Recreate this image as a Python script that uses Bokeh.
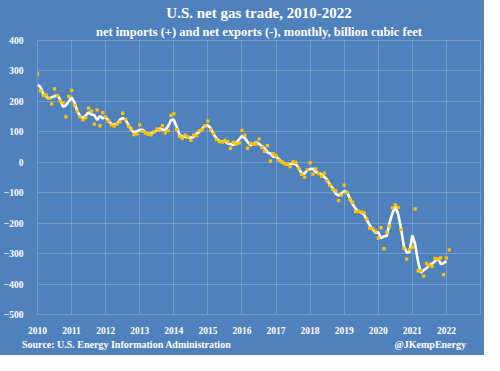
import numpy as np
from bokeh.plotting import figure
from bokeh.models import FixedTicker, Title, Div
from bokeh.layouts import column
from bokeh.embed import file_html
from bokeh.resources import INLINE

# Monthly net imports (+) / net exports (-), billion cubic feet, Jan 2010 - Feb 2022
monthly = [
    290, 235, 219, 221, 210, 192, 241, 219, 202, 196, 149, 216,      # 2010
    236, 187, 168, 149, 139, 146, 178, 168, 125, 172, 120, 163,      # 2011
    149, 135, 123, 119, 126, 133, 161, 141, 119, 110, 91, 93,        # 2012
    123, 102, 97, 92, 90, 101, 109, 105, 120, 97, 104, 154,          # 2013
    160, 107, 85, 79, 89, 83, 72, 89, 88, 104, 108, 119,             # 2014
    135, 108, 94, 75, 68, 66, 72, 68, 46, 66, 60, 64,                # 2015
    105, 89, 46, 62, 59, 60, 76, 48, 36, 55, 4, 28,                  # 2016
    21, 7, 1, -5, -6, -14, 1, 0, -20, -40, -49, -25,                 # 2017
    -2, -39, -22, -37, -46, -36, -61, -75, -89, -94, -126, -108,     # 2018
    -75, -99, -122, -132, -162, -161, -164, -166, -187, -216, -218, -226,  # 2019
    -249, -215, -284, -231, -210, -150, -140, -148, -221, -282, -318, -287,  # 2020
    -279, -153, -357, -357, -374, -332, -339, -342, -316, -318, -314, -369,  # 2021
    -314, -288,                                                      # 2022
]

# Smoothed trend line (white), Jan 2010 - Jan 2022
trend = [
    254, 248, 225, 217, 208, 214, 217, 221, 206, 182, 187, 200,
    213, 197, 168, 152, 145, 154, 164, 157, 155, 139, 152, 144,
    149, 136, 126, 123, 126, 140, 145, 140, 123, 107, 98, 102,
    106, 107, 97, 93, 94, 100, 105, 111, 107, 107, 118, 139,
    140, 117, 90, 84, 84, 81, 81, 83, 94, 100, 110, 121,
    121, 112, 92, 79, 70, 69, 69, 62, 60, 57, 63, 76,
    86, 80, 66, 56, 60, 65, 61, 53, 46, 32, 29, 18,
    19, 10, 1, -3, -8, -6, -4, -6, -20, -36, -38, -25,
    -22, -21, -33, -35, -40, -48, -57, -75, -86, -103, -109, -103,
    -94, -99, -118, -139, -152, -162, -164, -172, -190, -207, -220, -231,
    -230, -249, -243, -242, -197, -167, -146, -170, -217, -274, -296, -295,
    -240, -270, -325, -363, -354, -348, -338, -332, -325, -316, -334, -332,
    -324,
]

years = list(range(2010, 2023))
y_ticks = list(range(-500, 401, 100))

title = "U.S. net gas trade, 2010-2022"
subtitle = "net imports (+) and net exports (-), monthly, billion cubic feet"
source = "Source: U.S. Energy Information Administration"
credit = "@JKempEnergy"

BG = "#4f81bd"
FONT = "Liberation Serif"
W = 484

x_dots = 2010 + np.arange(len(monthly)) / 12.0
x_line = 2010 + np.arange(len(trend)) / 12.0

p = figure(width=W, height=336, output_backend="svg", toolbar_location=None,
           x_range=(2010, 2023), y_range=(-500, 400),
           min_border_left=30, min_border_right=4, min_border_top=40, min_border_bottom=18)
p.background_fill_color = BG
p.border_fill_color = BG
p.outline_line_color = "white"
p.outline_line_alpha = 0.2

p.line(x_line, trend, line_color="white", line_width=2.6)
p.scatter(x_dots, monthly, marker="square", size=3.3, fill_color="#ffc000", line_color=None)

p.xaxis.ticker = FixedTicker(ticks=years)
p.yaxis.ticker = FixedTicker(ticks=y_ticks)
for ax in (p.xaxis[0], p.yaxis[0]):
    ax.axis_line_color = None
    ax.major_tick_line_color = None
    ax.minor_tick_line_color = None
    ax.major_label_text_color = "white"
    ax.major_label_text_font = FONT
    ax.major_label_text_font_style = "bold"
    ax.major_label_text_font_size = "9.5px"
p.xaxis.major_label_standoff = 6
p.yaxis.major_label_standoff = 8

p.grid.grid_line_color = "white"
p.grid.grid_line_alpha = 0.2
p.grid.grid_line_width = 1

# main title is the default title (top), subtitle added closer to the frame
p.title.text = title
p.title.align = "center"
p.title.text_color = "white"
p.title.text_font = FONT
p.title.text_font_style = "bold"
p.title.text_font_size = "15px"
p.title.standoff = 0
p.add_layout(Title(text=subtitle, align="center", text_color="white", text_font=FONT,
                   text_font_style="bold", text_font_size="12.5px", standoff=4), "above")

footer_html = (
    f'<div style="display:flex;justify-content:space-between;align-items:center;'
    f'height:19px;padding:0 18px 0 22px;font-family:\'{FONT}\';font-weight:bold;'
    f'font-size:10px;color:white;background:{BG};box-sizing:border-box;width:{W}px;">'
    f'<span>{source}</span><span>{credit}</span></div>'
)
footer = Div(text=footer_html, width=W, height=19, margin=(0, 0, 0, 0),
             styles={"background-color": BG})

layout = column(p, footer, spacing=0, styles={"background-color": BG})

open("out.html", "w").write(file_html(layout, INLINE))
